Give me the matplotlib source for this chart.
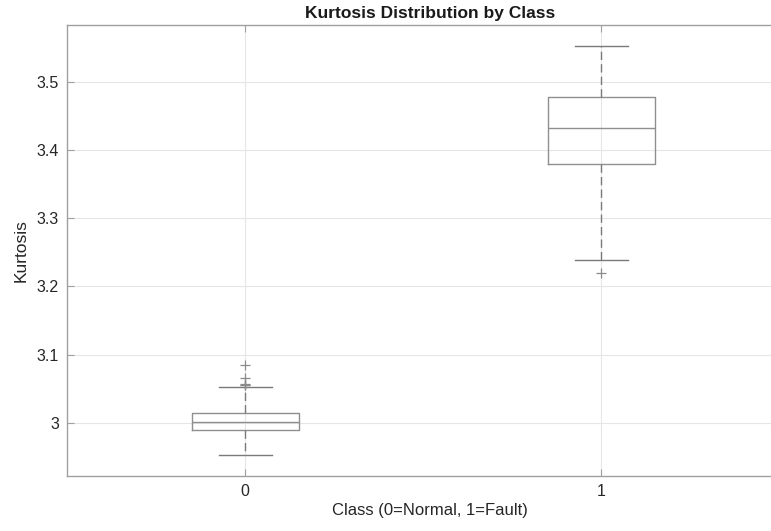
import matplotlib.pyplot as plt
import numpy as np

# box statistics (class 0 = normal, 1 = fault)
classes = [0, 1]
class_labels = ['0', '1']
q1 = [2.9889, 3.3789]
medians = [3.0010, 3.4321]
q3 = [3.0138, 3.4771]
whisker_low = [2.9522, 3.2390]
whisker_high = [3.0521, 3.5528]
outliers = [[3.0848, 3.0651, 3.0553, 3.0560, 3.0566], [3.2199]]

y_ticks = [3.0, 3.1, 3.2, 3.3, 3.4, 3.5]
y_tick_labels = ['3', '3.1', '3.2', '3.3', '3.4', '3.5']

plt.rcParams['font.family'] = ['Liberation Sans', 'DejaVu Sans']

fig = plt.figure(figsize=(7.71, 5.31), dpi=100)
# axes runs past the right edge of the image, as in the reference
ax = fig.add_axes([0.0873, 0.1041, 0.94, 0.8483])
# keep the data scale of the reference: 356 px per class step
ax.set_xlim(-0.5, -0.5 + 0.94 * 771 / 356)

stats = []
for i in range(len(classes)):
    stats.append({
        'med': medians[i], 'q1': q1[i], 'q3': q3[i],
        'whislo': whisker_low[i], 'whishi': whisker_high[i],
        'fliers': outliers[i],
    })

box_col = '#8f8f8f'
ax.bxp(stats, positions=classes, widths=0.3, capwidths=0.15,
       showfliers=True,
       boxprops=dict(color=box_col, linewidth=1.0),
       medianprops=dict(color=box_col, linewidth=1.0),
       whiskerprops=dict(color='#7a7a7a', linewidth=1.0, linestyle=(0, (6, 3))),
       capprops=dict(color='#7a7a7a', linewidth=1.0),
       flierprops=dict(marker='+', markeredgecolor='#8a8a8a', markersize=7,
                       markeredgewidth=0.9, linestyle='none'))

ax.set_xlim(-0.5, -0.5 + 0.94 * 771 / 356)
ax.set_ylim(2.9223, 3.5827)
ax.set_xticks(classes)
ax.set_xticklabels(class_labels)
ax.set_yticks(y_ticks)
ax.set_yticklabels(y_tick_labels)

ax.grid(True, color='#e6e6e6', linewidth=0.8)
ax.set_axisbelow(True)

for s in ax.spines.values():
    s.set_color('#a0a0a0')
    s.set_linewidth(1.0)

ax.tick_params(direction='in', length=5, width=0.8, color='#a0a0a0',
               labelsize=11.5, labelcolor='#262626', top=True, right=True, pad=6)

ax.set_title('Kurtosis Distribution by Class', fontsize=12.5, fontweight='bold',
             color='#1a1a1a', pad=5)
ax.set_xlabel('Class (0=Normal, 1=Fault)', fontsize=12, color='#262626', labelpad=3)
ax.set_ylabel('Kurtosis', fontsize=12.5, color='#262626', labelpad=6)

fig.savefig('out.png', dpi=100)
